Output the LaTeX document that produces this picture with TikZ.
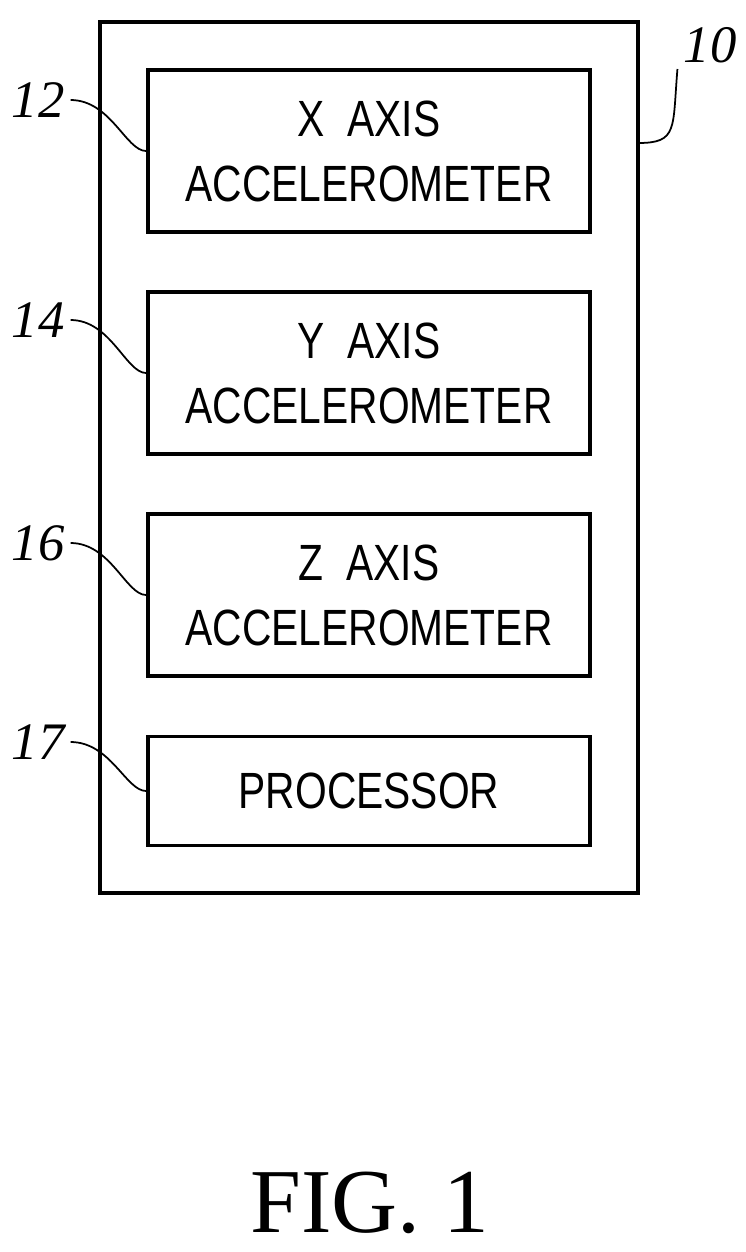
\documentclass[tikz,border=0pt]{standalone}
\usepackage{fontspec}
\setmainfont{Liberation Serif}
\setsansfont{Liberation Sans}
\newcommand{\nar}[1]{\scalebox{0.8}[1]{#1}}
\begin{document}
\tikzstyle{blk}+=[draw,line width=2.2pt,minimum width=8.84cm,minimum height=3.24cm,align=center,font=\sffamily\fontsize{29}{37}\selectfont]
\tikzstyle{ref}+=[font=\itshape\fontsize{30}{30}\selectfont]
\begin{tikzpicture}[x=0.02cm,y=-0.02cm]
        \useasboundingbox (0,0) rectangle (745,1252);
        \draw[line width=2.2pt] (100,22) rectangle (638,893);
        \node[blk] (xacc) at (369,151) {\nar{X\ \ AXIS}\\\nar{ACCELEROMETER}};
        \node[blk] (yacc) at (369,373) {\nar{Y\ \ AXIS}\\\nar{ACCELEROMETER}};
        \node[blk] (zacc) at (369,595) {\nar{Z\ \ AXIS}\\\nar{ACCELEROMETER}};
        \node[blk,minimum height=2.18cm] (proc) at (369,791) {\nar{PROCESSOR}};

        \node[ref] (l12) at (38,100) {12};
        \node[ref] (l14) at (38,320) {14};
        \node[ref] (l16) at (38,543) {16};
        \node[ref] (l17) at (38,742) {17};
        \node[ref] (l10) at (710,45) {10};
        \draw[line width=1pt] (l12.east) .. controls +(40,0) and +(-20,0) .. (xacc.west);
        \draw[line width=1pt] (l14.east) .. controls +(40,0) and +(-20,0) .. (yacc.west);
        \draw[line width=1pt] (l16.east) .. controls +(40,0) and +(-20,0) .. (zacc.west);
        \draw[line width=1pt] (l17.east) .. controls +(40,0) and +(-20,0) .. (proc.west);
        \coordinate (box) at (638,143);
        \draw[line width=1pt] (l10.south west) .. controls +(-5,60) and +(40,0) .. (box);

        \node[font=\fontsize{52}{52}\selectfont] (fig) at (370,1203) {FIG. 1};
    \end{tikzpicture}
\end{document}
